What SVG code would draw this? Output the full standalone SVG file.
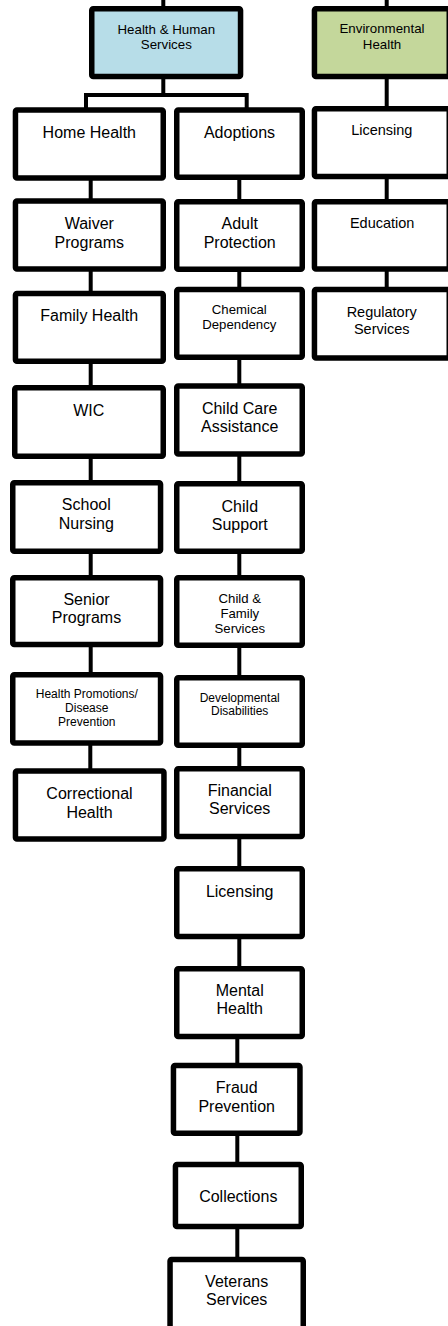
<svg xmlns="http://www.w3.org/2000/svg" width="448" height="1326" viewBox="0 0 448 1326">
<style>
.box{fill:#ffffff;stroke:#000;stroke-width:5.5;stroke-linejoin:round}
.hhs{fill:#b7dde8}
.env{fill:#c4d79b}
.c{stroke:#000;stroke-width:4;fill:none;stroke-linecap:butt}
text{font-family:"Liberation Sans",Arial,sans-serif;fill:#000;text-anchor:middle}
.t16{font-size:16px}
.t145{font-size:14.5px}
.t13{font-size:13.3px}
.t12{font-size:12px}
</style>
<rect width="448" height="1326" fill="#fff"/>
<g id="connectors">
<line class="c" x1="163.3" y1="0" x2="163.3" y2="8"/>
<line class="c" x1="163.3" y1="78" x2="163.3" y2="95"/>
<polyline class="c" points="86,110 86,95 246.7,95 246.7,110" stroke-linejoin="miter"/>
<line class="c" x1="386.7" y1="0" x2="386.7" y2="8"/>
<line class="c" x1="386.7" y1="78" x2="386.7" y2="108"/>
<line class="c" x1="386.7" y1="178" x2="386.7" y2="201"/>
<line class="c" x1="386.7" y1="270" x2="386.7" y2="289"/>
<line class="c" x1="90.7" y1="179" x2="90.7" y2="200"/>
<line class="c" x1="90.7" y1="270" x2="90.7" y2="293"/>
<line class="c" x1="90.7" y1="362" x2="90.7" y2="387"/>
<line class="c" x1="90.7" y1="457" x2="90.7" y2="482"/>
<line class="c" x1="90.7" y1="552" x2="90.7" y2="577"/>
<line class="c" x1="90.7" y1="645" x2="90.7" y2="674"/>
<line class="c" x1="90.3" y1="744" x2="90.3" y2="770"/>
<line class="c" x1="239.3" y1="178" x2="239.3" y2="201"/>
<line class="c" x1="239.3" y1="270" x2="239.3" y2="289"/>
<line class="c" x1="239.3" y1="358" x2="239.3" y2="386"/>
<line class="c" x1="239.3" y1="455" x2="239.3" y2="483"/>
<line class="c" x1="239.3" y1="552" x2="239.3" y2="577"/>
<line class="c" x1="239.3" y1="646" x2="239.3" y2="677"/>
<line class="c" x1="239.3" y1="746" x2="239.3" y2="768"/>
<line class="c" x1="239.3" y1="837" x2="239.3" y2="868"/>
<line class="c" x1="239.3" y1="937" x2="239.3" y2="968"/>
<line class="c" x1="237.3" y1="1037" x2="237.3" y2="1065"/>
<line class="c" x1="237.3" y1="1134" x2="237.3" y2="1164"/>
<line class="c" x1="237.3" y1="1227" x2="237.3" y2="1259"/>
</g>
<g id="hhs"><rect class="box hhs" x="91.75" y="8.75" width="148.8" height="67.8" rx="1.5"/><text class="t13" x="166.3" y="34">Health &amp; Human</text><text class="t13" x="166.3" y="49">Services</text></g>
<g id="env"><rect class="box env" x="314.45" y="8.75" width="134.8" height="67.8" rx="1.5"/><text class="t13" x="382" y="33.3">Environmental</text><text class="t13" x="382" y="49">Health</text></g>
<g id="env-licensing"><rect class="box" x="314.45" y="108.75" width="134.8" height="67.8" rx="1.5"/><text class="t145" x="381.8" y="135.3">Licensing</text></g>
<g id="education"><rect class="box" x="314.45" y="201.75" width="134.8" height="67.2" rx="1.5"/><text class="t145" x="382.2" y="228.3">Education</text></g>
<g id="regulatory"><rect class="box" x="314.45" y="289.45" width="134.8" height="68.5" rx="1.5"/><text class="t145" x="381.7" y="317.3">Regulatory</text><text class="t145" x="381.7" y="334">Services</text></g>
<g id="home-health"><rect class="box" x="15.45" y="110.05" width="147.8" height="67.9" rx="1.5"/><text class="t16" x="89.3" y="138.3">Home Health</text></g>
<g id="waiver"><rect class="box" x="15.45" y="201.05" width="147.8" height="67.9" rx="1.5"/><text class="t16" x="89.3" y="229.3">Waiver</text><text class="t16" x="89.3" y="247.7">Programs</text></g>
<g id="family-health"><rect class="box" x="15.45" y="293.45" width="147.8" height="67.8" rx="1.5"/><text class="t16" x="89.2" y="321">Family Health</text></g>
<g id="wic"><rect class="box" x="14.75" y="387.75" width="148.5" height="68.5" rx="1.5"/><text class="t16" x="88.7" y="416">WIC</text></g>
<g id="school-nursing"><rect class="box" x="12.75" y="482.75" width="147.8" height="68.5" rx="1.5"/><text class="t16" x="86.3" y="510">School</text><text class="t16" x="86.3" y="529.3">Nursing</text></g>
<g id="senior"><rect class="box" x="12.75" y="577.75" width="147.8" height="66.8" rx="1.5"/><text class="t16" x="86.5" y="605">Senior</text><text class="t16" x="86.5" y="622.7">Programs</text></g>
<g id="health-promotions"><rect class="box" x="12.75" y="674.75" width="147.8" height="68.2" rx="1.5"/><text class="t12" x="86.8" y="698.3">Health Promotions/</text><text class="t12" x="86.8" y="712.3">Disease</text><text class="t12" x="86.8" y="726">Prevention</text></g>
<g id="correctional"><rect class="box" x="15.45" y="771.05" width="148.5" height="67.9" rx="1.5"/><text class="t16" x="89.5" y="799.3">Correctional</text><text class="t16" x="89.5" y="817.7">Health</text></g>
<g id="adoptions"><rect class="box" x="176.75" y="110.05" width="125.5" height="67.2" rx="1.5"/><text class="t16" x="239.5" y="138">Adoptions</text></g>
<g id="adult-protection"><rect class="box" x="176.75" y="201.75" width="125.5" height="67.5" rx="1.5"/><text class="t16" x="239.7" y="229.3">Adult</text><text class="t16" x="239.7" y="247.7">Protection</text></g>
<g id="chemical"><rect class="box" x="176.75" y="289.45" width="125.5" height="67.8" rx="1.5"/><text class="t13" x="239.3" y="314" style="font-size:13.2px">Chemical</text><text class="t13" x="239.3" y="329" style="font-size:13.2px">Dependency</text></g>
<g id="child-care"><rect class="box" x="176.75" y="386.05" width="125.5" height="67.9" rx="1.5"/><text class="t16" x="239.7" y="413.5">Child Care</text><text class="t16" x="239.7" y="432">Assistance</text></g>
<g id="child-support"><rect class="box" x="176.75" y="483.75" width="125.5" height="67.5" rx="1.5"/><text class="t16" x="239.8" y="511.7">Child</text><text class="t16" x="239.8" y="530">Support</text></g>
<g id="child-family"><rect class="box" x="176.75" y="577.75" width="125.5" height="67.5" rx="1.5"/><text class="t13" x="239.8" y="602.7" style="font-size:13.2px">Child &amp;</text><text class="t13" x="239.8" y="617.7" style="font-size:13.2px">Family</text><text class="t13" x="239.8" y="632.7" style="font-size:13.2px">Services</text></g>
<g id="developmental"><rect class="box" x="176.75" y="677.75" width="125.5" height="67.5" rx="1.5"/><text class="t12" x="239.7" y="702.3">Developmental</text><text class="t12" x="239.7" y="715">Disabilities</text></g>
<g id="financial"><rect class="box" x="176.75" y="768.75" width="125.5" height="67.8" rx="1.5"/><text class="t16" x="239.7" y="796">Financial</text><text class="t16" x="239.7" y="814.3">Services</text></g>
<g id="licensing"><rect class="box" x="176.75" y="868.75" width="125.5" height="67.8" rx="1.5"/><text class="t16" x="239.7" y="896.7">Licensing</text></g>
<g id="mental-health"><rect class="box" x="176.75" y="968.75" width="125.5" height="67.8" rx="1.5"/><text class="t16" x="239.7" y="996">Mental</text><text class="t16" x="239.7" y="1014.3">Health</text></g>
<g id="fraud"><rect class="box" x="173.45" y="1065.45" width="126.5" height="67.8" rx="1.5"/><text class="t16" x="236.7" y="1093.3">Fraud</text><text class="t16" x="236.7" y="1111.7">Prevention</text></g>
<g id="collections"><rect class="box" x="175.45" y="1164.45" width="125.8" height="62.1" rx="1.5"/><text class="t16" x="238.3" y="1201.7">Collections</text></g>
<g id="veterans"><rect class="box" x="170.05" y="1259.45" width="133.2" height="75" rx="1.5"/><text class="t16" x="236.7" y="1287">Veterans</text><text class="t16" x="236.7" y="1305">Services</text></g>
</svg>
